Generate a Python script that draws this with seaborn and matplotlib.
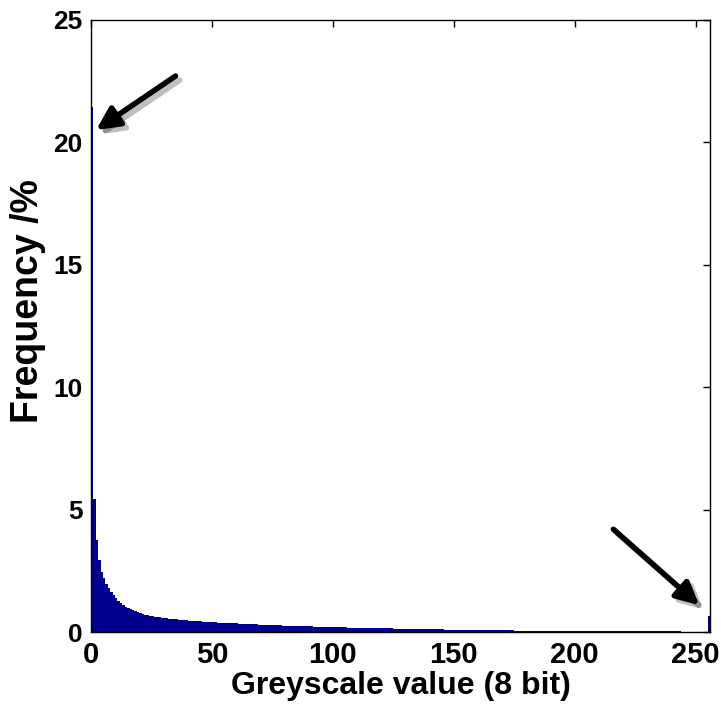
import numpy as np
import pandas as pd
import matplotlib
matplotlib.use("Agg")
import matplotlib.pyplot as plt
import matplotlib.patheffects as pe
import seaborn as sns

# histogram of 8 bit greyscale values, frequency in percent
grey_values = np.arange(256)
freq_pct = [
    21.45, 5.45, 3.76, 2.94, 2.47, 2.20, 1.98, 1.80, 1.65, 1.52, 1.39, 1.28, 1.20, 1.11, 1.04, 0.98,
    0.93, 0.89, 0.85, 0.81, 0.78, 0.75, 0.72, 0.70, 0.67, 0.66, 0.63, 0.62, 0.60, 0.59, 0.58, 0.56,
    0.55, 0.54, 0.53, 0.52, 0.51, 0.50, 0.49, 0.48, 0.47, 0.465, 0.46, 0.45, 0.445, 0.44, 0.43, 0.425,
    0.42, 0.41, 0.405, 0.40, 0.395, 0.39, 0.385, 0.38, 0.375, 0.37, 0.365, 0.36, 0.355, 0.35, 0.345, 0.34,
    0.335, 0.33, 0.325, 0.32, 0.315, 0.31, 0.305, 0.30, 0.297, 0.293, 0.29, 0.286, 0.282, 0.278, 0.275, 0.271,
    0.268, 0.264, 0.261, 0.258, 0.255, 0.252, 0.249, 0.246, 0.243, 0.240, 0.237, 0.234, 0.231, 0.228, 0.225, 0.222,
    0.219, 0.216, 0.213, 0.210, 0.207, 0.204, 0.201, 0.198, 0.195, 0.192, 0.189, 0.186, 0.184, 0.182, 0.180, 0.178,
    0.176, 0.174, 0.172, 0.170, 0.168, 0.166, 0.164, 0.162, 0.160, 0.158, 0.156, 0.154, 0.152, 0.150, 0.148, 0.146,
    0.144, 0.142, 0.140, 0.138, 0.136, 0.134, 0.132, 0.130, 0.128, 0.126, 0.124, 0.122, 0.120, 0.118, 0.116, 0.114,
    0.112, 0.110, 0.109, 0.108, 0.107, 0.106, 0.105, 0.104, 0.103, 0.102, 0.101, 0.100, 0.099, 0.098, 0.097, 0.096,
    0.094, 0.092, 0.090, 0.088, 0.086, 0.084, 0.082, 0.080, 0.078, 0.076, 0.074, 0.073, 0.072, 0.071, 0.070, 0.069,
    0.068, 0.067, 0.066, 0.065, 0.064, 0.063, 0.062, 0.061, 0.060, 0.059, 0.058, 0.057, 0.056, 0.055, 0.054, 0.053,
    0.052, 0.051, 0.050, 0.050, 0.049, 0.049, 0.048, 0.048, 0.047, 0.047, 0.046, 0.046, 0.045, 0.045, 0.044, 0.044,
    0.043, 0.043, 0.042, 0.042, 0.041, 0.041, 0.040, 0.040, 0.039, 0.039, 0.038, 0.038, 0.037, 0.037, 0.036, 0.036,
    0.035, 0.035, 0.034, 0.034, 0.034, 0.033, 0.033, 0.033, 0.032, 0.032, 0.032, 0.031, 0.031, 0.031, 0.030, 0.030,
    0.030, 0.029, 0.029, 0.029, 0.028, 0.028, 0.028, 0.027, 0.027, 0.027, 0.026, 0.026, 0.026, 0.025, 0.025, 0.67,
]
x_ticks = [0, 50, 100, 150, 200, 250]
y_ticks = [0, 5, 10, 15, 20, 25]

df = pd.DataFrame({"grey": grey_values, "freq": freq_pct})

sns.set_style("white")
plt.rcParams["font.family"] = ["Liberation Sans", "DejaVu Sans"]
plt.rcParams["text.color"] = "black"
plt.rcParams["axes.labelcolor"] = "black"

fig = plt.figure(figsize=(7.21, 7.04), dpi=100)
ax = fig.add_axes([0.126, 0.102, 0.859, 0.870])

sns.histplot(data=df, x="grey", weights="freq", bins=256, binrange=(0, 256),
             color="#000090", edgecolor="none", alpha=1, ax=ax)

ax.set_xlim(0, 256)
ax.set_ylim(0, 25)
ax.set_xticks(x_ticks)
ax.set_yticks(y_ticks)
ax.tick_params(direction="in", length=5, width=1, top=True, right=True,
               colors="black", pad=6)
for lab in ax.get_xticklabels():
    lab.set_fontsize(21)
    lab.set_fontweight("bold")
for lab in ax.get_yticklabels():
    lab.set_fontsize(19)
    lab.set_fontweight("bold")
for s in ax.spines.values():
    s.set_color("black")
    s.set_linewidth(1)

ax.set_xlabel("Greyscale value (8 bit)", fontsize=23, fontweight="bold",
              color="black", labelpad=2)
ax.set_ylabel("Frequency /%", fontsize=27, fontweight="bold", color="black")
ax.yaxis.set_label_coords(-0.073, 0.54)

# arrows pointing at the two extreme bins
shadow = [pe.SimpleLineShadow(offset=(3, -3), alpha=0.25), pe.Normal()]
arrow = dict(arrowstyle="-|>", lw=4, color="black", mutation_scale=34,
             shrinkA=0, shrinkB=0)
ax.annotate("", xy=(2.2, 20.5), xytext=(35, 22.7),
            arrowprops=dict(arrow, path_effects=shadow))
ax.annotate("", xy=(251.5, 1.1), xytext=(216, 4.2),
            arrowprops=dict(arrow, path_effects=shadow))

fig.savefig("out.png", dpi=100)
